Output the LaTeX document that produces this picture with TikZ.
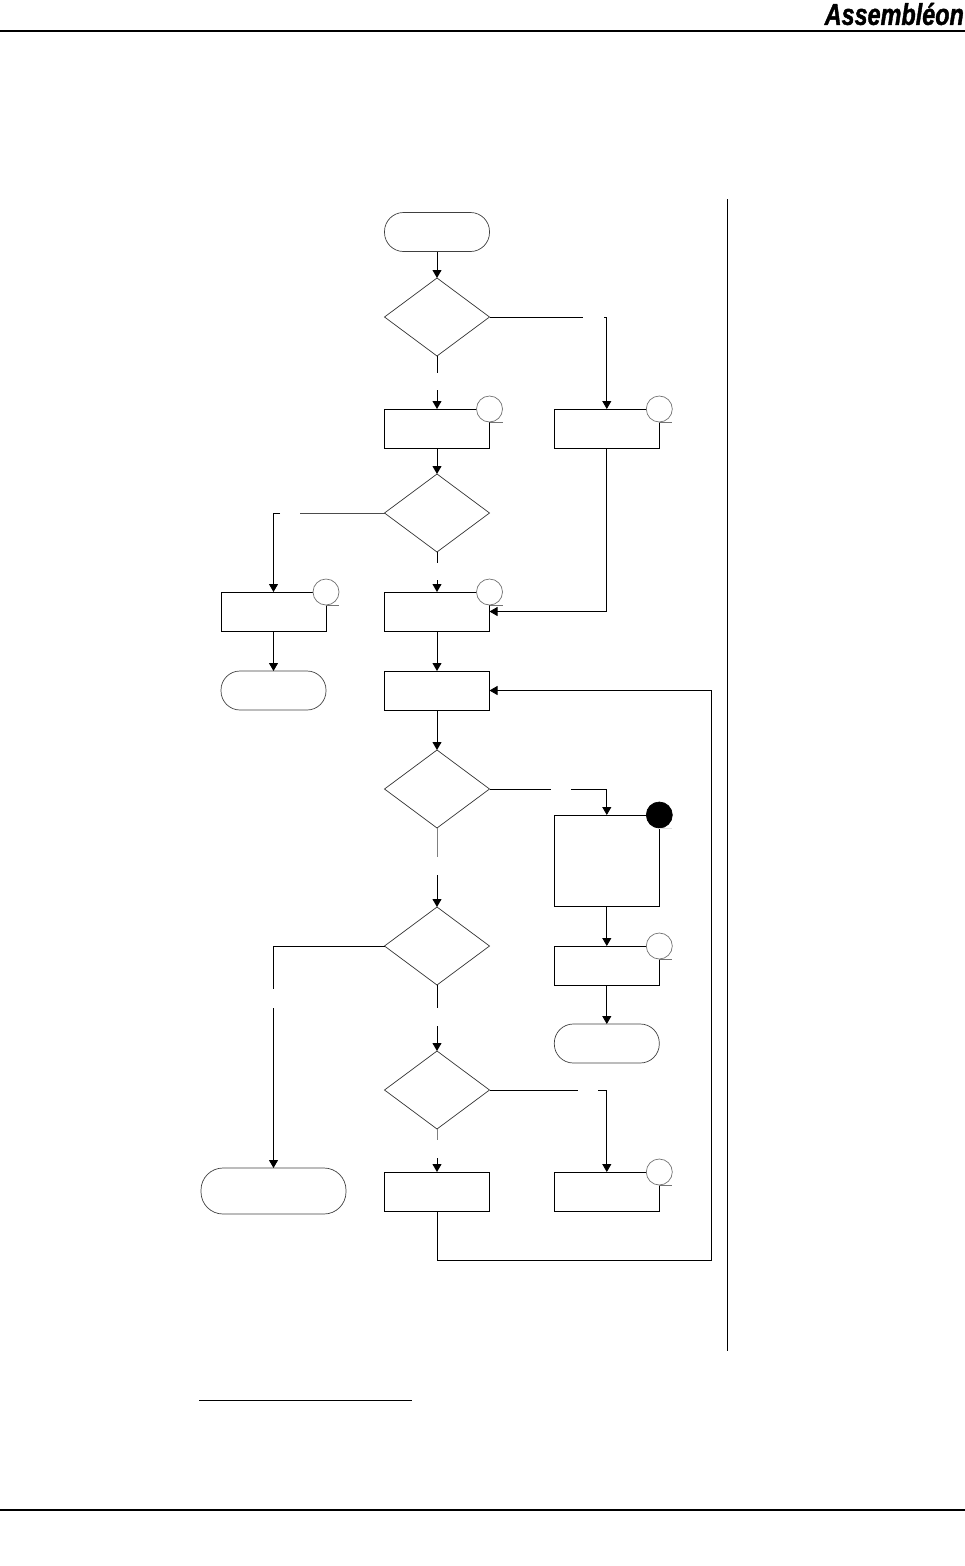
\documentclass[tikz,border=0pt]{standalone}
\usepackage{fontspec}
\newfontfamily\logofont[BoldItalicFeatures={FakeBold=1.5}]{Liberation Sans}
\usetikzlibrary{shapes,shapes.geometric,positioning,arrows.meta}

\begin{document}
\begin{tikzpicture}[
    x=1pt, y=-1pt,
    stepbox/.style={draw, line width=1pt, minimum width=105pt, minimum height=39pt, inner sep=0pt, outer sep=0pt},
    term/.style={draw, black!75, line width=0.7pt, rounded corners=19pt, minimum width=105pt, minimum height=39pt, inner sep=0pt, outer sep=0pt},
    test/.style={draw, black!80, line width=0.7pt, diamond, minimum width=105pt, minimum height=78pt, inner sep=0pt, outer sep=0pt},
    ref/.style={circle, draw, black!55, fill=white, line width=0.7pt, minimum size=26pt, inner sep=0pt, outer sep=0pt},
    tail/.style={black!55, line width=0.7pt},
    arr/.style={-{Triangle[length=8pt,width=9pt]}, line width=0.9pt},
    lin/.style={line width=0.9pt},
    rule/.style={line width=0.8pt}
]
    \useasboundingbox (0,0) rectangle (965,1566);

    % --- Page furniture ---
    \node[font=\logofont\bfseries\itshape\fontsize{30}{30}\selectfont, xscale=0.78, anchor=east, inner sep=0pt] (logo) at (964,14) {Assembléon};
    \coordinate (headL) at (0,30.5);
    \coordinate (headR) at (965,30.5);
    \draw[line width=2pt] (headL) -- (headR);
    \coordinate (footL) at (0,1510);
    \coordinate (footR) at (965,1510);
    \draw[line width=1.6pt] (footL) -- (footR);
    \coordinate (barT) at (727,199);
    \coordinate (barB) at (727,1351);
    \draw[rule] (barT) -- (barB);
    \coordinate (noteL) at (199,1400);
    \coordinate (noteR) at (412,1400);
    \draw[rule] (noteL) -- (noteR);

    % --- Centre column ---
    \node[term] (start) at (437,232) {};
    \node[test] (d1) at (437,317) {};
    \node[stepbox] (b1) at (437,428.5) {};
    \node[test] (d2) at (437,513) {};
    \node[stepbox] (b4) at (437,611.5) {};
    \node[stepbox] (b5) at (437,690.5) {};
    \node[test] (d3) at (437,789) {};
    \node[test] (d4) at (437,946) {};
    \node[test] (d5) at (437,1090) {};
    \node[stepbox] (b9) at (437,1191.5) {};

    % --- Right column ---
    \node[stepbox] (b2) at (606.8,428.5) {};
    \node[stepbox, minimum height=91pt] (b6) at (606.8,860.5) {};
    \node[stepbox] (b7) at (606.8,965.5) {};
    \node[term] (t3) at (606.8,1043.5) {};
    \node[stepbox] (b8) at (606.8,1191.5) {};

    % --- Left column ---
    \node[stepbox] (b3) at (273.5,611.5) {};
    \node[term] (t2) at (273.5,690.5) {};
    \node[term, minimum width=145pt, minimum height=46pt, rounded corners=22pt] (t4) at (273.5,1191) {};

    % --- Reference circles ---
    \node[ref] (c1) at (b1.north east) {};
    \node[ref] (c2) at (b2.north east) {};
    \node[ref] (c3) at (b3.north east) {};
    \node[ref] (c4) at (b4.north east) {};
    \node[ref, fill=black, draw=black] (c6) at (b6.north east) {};
    \node[ref] (c7) at (b7.north east) {};
    \node[ref] (c8) at (b8.north east) {};
    \draw[tail] (c1.south) -- ++(13,0);
    \draw[tail] (c2.south) -- ++(13,0);
    \draw[tail] (c3.south) -- ++(13,0);
    \draw[tail] (c4.south) -- ++(13,0);
    \draw[tail, black!12] (c6.south) -- ++(13,0);
    \draw[tail] (c7.south) -- ++(13,0);
    \draw[tail] (c8.south) -- ++(13,0);

    % --- Ends of the broken lines ---
    \coordinate (d1a) at (437,373);
    \coordinate (d1b) at (437,390);
    \coordinate (d1c) at (583,317);
    \coordinate (d1d) at (604,317);
    \coordinate (d2a) at (437,563);
    \coordinate (d2b) at (437,580);
    \coordinate (d2c) at (300,513);
    \coordinate (d2d) at (280,513);
    \coordinate (d3a) at (437,857);
    \coordinate (d3b) at (437,875);
    \coordinate (d3c) at (551,789);
    \coordinate (d3d) at (571,789);
    \coordinate (d4a) at (437,1008);
    \coordinate (d4b) at (437,1026);
    \coordinate (d4c) at (273.5,989);
    \coordinate (d4d) at (273.5,1008);
    \coordinate (d5a) at (437,1140);
    \coordinate (d5b) at (437,1158);
    \coordinate (d5c) at (578,1090);
    \coordinate (d5d) at (598,1090);
    \coordinate (loop) at (711,1260);

    % --- Connectors ---
    \draw[arr] (start.south) -- (d1.north);
    \draw[lin] (d1.south) -- (d1a);
    \draw[arr] (d1b) -- (b1.north);
    \draw[lin] (d1.east) -- (d1c);
    \draw[arr] (d1d) -| (b2.north);
    \draw[arr] (b1.south) -- (d2.north);
    \draw[arr] (b2.south) |- (b4.east);
    \draw[lin] (d2.south) -- (d2a);
    \draw[arr] (d2b) -- (b4.north);
    \draw[lin, black!70] (d2.west) -- (d2c);
    \draw[arr] (d2d) -| (b3.north);
    \draw[arr] (b3.south) -- (t2.north);
    \draw[arr] (b4.south) -- (b5.north);
    \draw[arr] (b5.south) -- (d3.north);
    \draw[lin] (d3.east) -- (d3c);
    \draw[arr] (d3d) -| (b6.north);
    \draw[lin, black!50] (d3.south) -- (d3a);
    \draw[arr] (d3b) -- (d4.north);
    \draw[arr] (b6.south) -- (b7.north);
    \draw[arr] (b7.south) -- (t3.north);
    \draw[lin] (d4.west) -| (d4c);
    \draw[arr] (d4d) -- (t4.north);
    \draw[lin] (d4.south) -- (d4a);
    \draw[arr] (d4b) -- (d5.north);
    \draw[lin] (d5.east) -- (d5c);
    \draw[arr] (d5d) -| (b8.north);
    \draw[lin, black!50] (d5.south) -- (d5a);
    \draw[arr] (d5b) -- (b9.north);
    \draw[arr] (b9.south) |- (loop) |- (b5.east);
\end{tikzpicture}
\end{document}
